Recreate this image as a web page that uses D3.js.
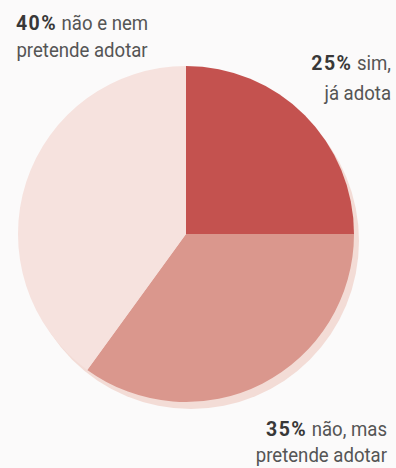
<!doctype html>
<html>
<head>
<meta charset="utf-8">
<style>
    body { margin: 0; background: #fbfafa; }
    text { font-family: "Roboto", "Liberation Sans", sans-serif; fill: #555; }
    .pct { font-weight: bold; fill: #383838; font-size: 21px; letter-spacing: 1.5px; }
</style>
<script src="https://d3js.org/d3.v7.min.js"></script>
</head>
<body>
<svg width="396" height="468"></svg>
<script>
    // slices clockwise from 12 o'clock
    var values = [25, 35, 40];
    var pctLabels = ["25%", "35%", "40%"];
    var firstLines = ["sim,", "não, mas", "não e nem"];
    var secondLines = ["já adota", "pretende adotar", "pretende adotar"];
    var colors = ["#c4524f", "#da978d", "#f6e2de"];

    var svg = d3.select("svg"),
        cx = 186, cy = 234, r = 168;

    var pie = d3.pie().sort(null).value(function(d) { return d; });
    var arc = d3.arc().innerRadius(0).outerRadius(r);

    // soft offset shadow behind the disc
    svg.append("circle")
       .attr("cx", cx + 5)
       .attr("cy", cy + 7)
       .attr("r", r)
       .attr("fill", "#f3dcd6");

    var g = svg.append("g")
               .attr("transform", "translate(" + cx + "," + cy + ")");

    g.selectAll("path")
     .data(pie(values))
     .enter().append("path")
     .attr("d", arc)
     .attr("fill", function(d, i) { return colors[i]; });

    // label anchor spots: [x, first baseline, line gap, anchor]
    var spots = [[391, 70, 30, "end"], [387, 436, 26, "end"], [82, 30, 27, "middle"]];

    // the print face is condensed, so squeeze the text horizontally
    var squeeze = 0.93;

    spots.forEach(function(s, i) {
        var lg = svg.append("g")
                    .attr("transform", "translate(" + s[0] + "," + s[1] + ") scale(" + squeeze + ",1)");
        var t = lg.append("text")
                  .attr("text-anchor", s[3])
                  .attr("font-size", "20px");
        t.append("tspan").attr("class", "pct").text(pctLabels[i]);
        t.append("tspan").text(" " + firstLines[i]);
        lg.append("text")
          .attr("y", s[2])
          .attr("text-anchor", s[3])
          .attr("font-size", "20px")
          .text(secondLines[i]);
    });
</script>
</body>
</html>
